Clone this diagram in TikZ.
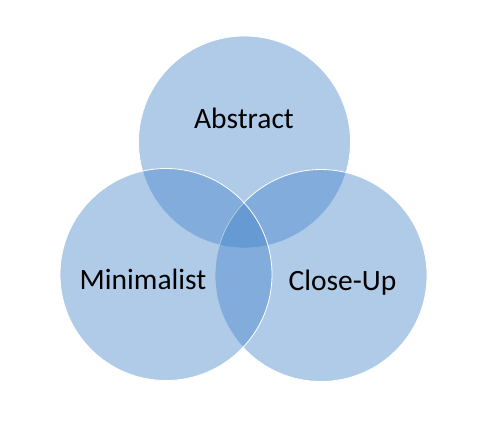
\documentclass[tikz,border=0pt]{standalone}
\usepackage{fontspec}
\setmainfont{Carlito}
\definecolor{vennblue}{RGB}{62,128,200}
\begin{document}
\begin{tikzpicture}[x=1pt, y=-1pt,
    set/.style={circle, draw=white, line width=0.8pt, fill=vennblue, fill opacity=0.41, minimum size=212pt, inner sep=0pt},
    setlabel/.style={anchor=base, font=\fontsize{29.5}{34}\selectfont, text=black, inner sep=0pt}]
    \path[use as bounding box] (0,0) rectangle (494,430);
    \node[set] (abstract) at (244.5,142) {};
    \node[set] (closeup) at (321,275.5) {};
    \node[set] (minimalist) at (166,274.5) {};

    % Labels
    \node[setlabel] (abstractlabel) at (244,129) {Abstract};
    \node[setlabel] (minimalistlabel) at (143,289) {Minimalist};
    \node[setlabel] (closeuplabel) at (342.5,290) {Close-Up};

    \end{tikzpicture}
\end{document}
